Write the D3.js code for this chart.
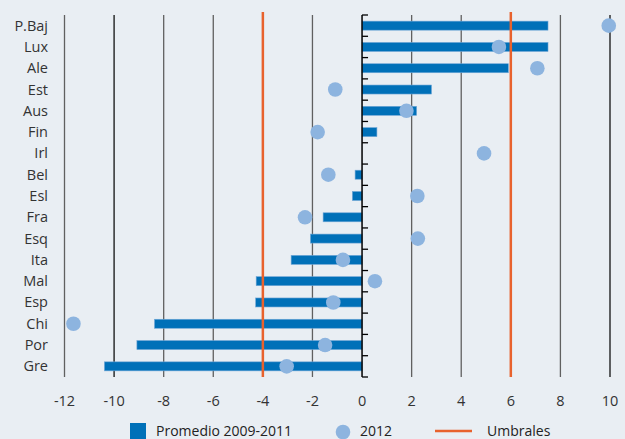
<!DOCTYPE html>
<html><head><meta charset="utf-8">
<script src="https://cdn.jsdelivr.net/npm/d3@7"></script>
<style>
html,body{margin:0;padding:0;background:#e9eef3;}
svg{display:block;font-family:"Open Sans","Noto Sans",sans-serif;}
</style></head><body>
<svg id="c" width="625" height="439"></svg>
<script>
const categories = ["P.Baj","Lux","Ale","Est","Aus","Fin","Irl","Bel","Esl","Fra","Esq","Ita","Mal","Esp","Chi","Por","Gre"];
const promedio = [7.5,7.5,5.9,2.8,2.2,0.6,0,-0.28,-0.39,-1.57,-2.08,-2.86,-4.27,-4.29,-8.37,-9.08,-10.39];
const y2012 = [9.95,5.52,7.07,-1.08,1.79,-1.79,4.92,-1.36,2.23,-2.3,2.25,-0.77,0.52,-1.16,-11.64,-1.49,-3.04];
const thresholds = [-4,6];
const xTicks = [-12,-10,-8,-6,-4,-2,0,2,4,6,8,10];

const svg = d3.select("#c");
const plotTop = 15, plotBottom = 377;
const x = d3.scaleLinear().domain([-12,10]).range([64.5,610]);
const y = d3.scaleBand().domain(categories).range([plotTop,plotBottom]);

// gridlines
svg.append("g").selectAll("line").data(xTicks.filter(d=>d!==0)).join("line")
  .attr("x1",d=>x(d)).attr("x2",d=>x(d)).attr("y1",plotTop).attr("y2",plotBottom)
  .attr("stroke",d=> (Math.abs(d)===10) ? "#111" : "#606060").attr("stroke-width",1.3);

// bars
svg.append("g").selectAll("rect").data(categories).join("rect")
  .attr("x",(d,i)=>Math.min(x(0),x(promedio[i])))
  .attr("width",(d,i)=>Math.abs(x(promedio[i])-x(0)))
  .attr("y",d=>y(d)+y.bandwidth()/2-4.5)
  .attr("height",9)
  .attr("fill","#0070b8").attr("stroke","#6fa6d6").attr("stroke-width",0.6);

// zero axis
const ax = svg.append("g").attr("transform",`translate(${x(0)},0)`);
ax.append("line").attr("y1",plotTop).attr("y2",plotBottom).attr("stroke","#000").attr("stroke-width",1.5);
ax.selectAll("line.t").data(d3.range(categories.length+1)).join("line").attr("class","t")
  .attr("x1",0).attr("x2",6)
  .attr("y1",i=>plotTop+i*y.step()).attr("y2",i=>plotTop+i*y.step())
  .attr("stroke","#000").attr("stroke-width",1.3);

// threshold lines
svg.append("g").selectAll("line").data(thresholds).join("line")
  .attr("x1",d=>x(d)).attr("x2",d=>x(d)).attr("y1",12).attr("y2",plotBottom)
  .attr("stroke","#e8622d").attr("stroke-width",2.5);

// dots
svg.append("g").selectAll("circle").data(categories).join("circle")
  .attr("cx",(d,i)=>x(y2012[i])).attr("cy",d=>y(d)+y.bandwidth()/2)
  .attr("r",7.3).attr("fill","#8db4df");

// category labels
svg.append("g").selectAll("text").data(categories).join("text")
  .attr("x",48).attr("y",d=>y(d)+y.bandwidth()/2+5)
  .attr("text-anchor","end").attr("font-size",14.5).attr("fill","#333").text(d=>d);

// x tick labels
svg.append("g").selectAll("text").data(xTicks).join("text")
  .attr("x",d=>x(d)).attr("y",406).attr("text-anchor","middle")
  .attr("font-size",14.5).attr("fill","#333").text(d=>d);

// legend
const lg = svg.append("g");
lg.append("rect").attr("x",130).attr("y",423).attr("width",16).attr("height",16).attr("fill","#0070b8");
lg.append("text").attr("x",156).attr("y",436).attr("font-size",14).attr("fill","#222").text("Promedio 2009-2011");
lg.append("circle").attr("cx",343).attr("cy",432).attr("r",7.3).attr("fill","#8db4df");
lg.append("text").attr("x",360).attr("y",436).attr("font-size",14).attr("fill","#222").text("2012");
lg.append("line").attr("x1",435).attr("x2",472).attr("y1",431).attr("y2",431).attr("stroke","#e8622d").attr("stroke-width",2.5);
lg.append("text").attr("x",487).attr("y",436).attr("font-size",14).attr("fill","#222").text("Umbrales");
</script>
</body></html>
